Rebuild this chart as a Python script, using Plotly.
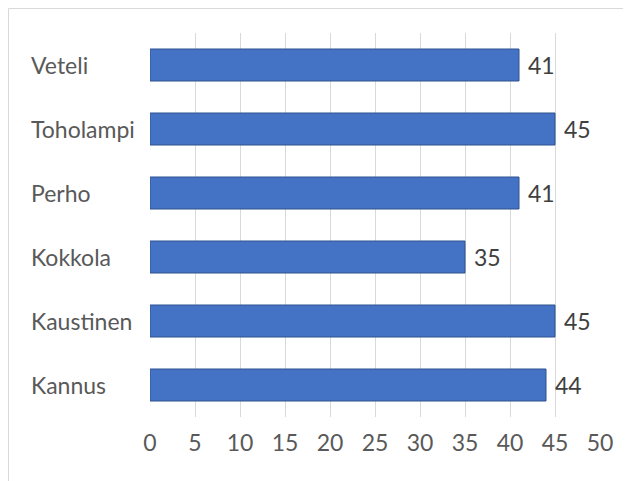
import plotly.graph_objects as go

categories = ["Kannus", "Kaustinen", "Kokkola", "Perho", "Toholampi", "Veteli"]
values = [44, 45, 35, 41, 45, 41]
x_ticks = [0, 5, 10, 15, 20, 25, 30, 35, 40, 45, 50]

W, H = 631, 481
OFF = 8  # page body margin
L, R, T, B = 150 - OFF, 31 + OFF, 33 - OFF, 64 + OFF
pw = W - L - R
ph = H - T - B

FAM = "Lato"
fig = go.Figure(go.Bar(
    y=categories, x=values, orientation="h",
    width=0.5,
    marker=dict(color="#4472C4", line=dict(color="#2F528F", width=1)),
    texttemplate=" %{x}", textposition="outside",
    textfont=dict(family=FAM, size=23, color="#404040"),
    cliponaxis=False,
))

font = dict(family=FAM, size=23, color="#595959")

for c in categories:
    fig.add_annotation(x=(29 - 150) / pw, xref="paper", y=c, yref="y",
                       text=c, showarrow=False, xanchor="left",
                       font=font)

fig.add_shape(type="rect", xref="paper", yref="paper",
              x0=(0.5 - L) / pw, x1=1.3, y0=-0.4, y1=1 + (T - 0.5) / ph,
              line=dict(color="#d9d9d9", width=1))

fig.update_layout(
    width=W, height=H,
    margin=dict(l=L, r=R, t=T, b=B, autoexpand=False),
    plot_bgcolor="white", paper_bgcolor="white",
    showlegend=False,
    xaxis=dict(range=[0, 50], tickvals=x_ticks, showgrid=True,
               gridcolor="#d9d9d9", gridwidth=1, zeroline=False,
               showline=False, tickfont=font, ticks="", ticklabelstandoff=10),
    yaxis=dict(showticklabels=False, showgrid=False, zeroline=False,
               showline=False, range=[-0.5, 5.5]),
)

fig.write_html("out.html")
